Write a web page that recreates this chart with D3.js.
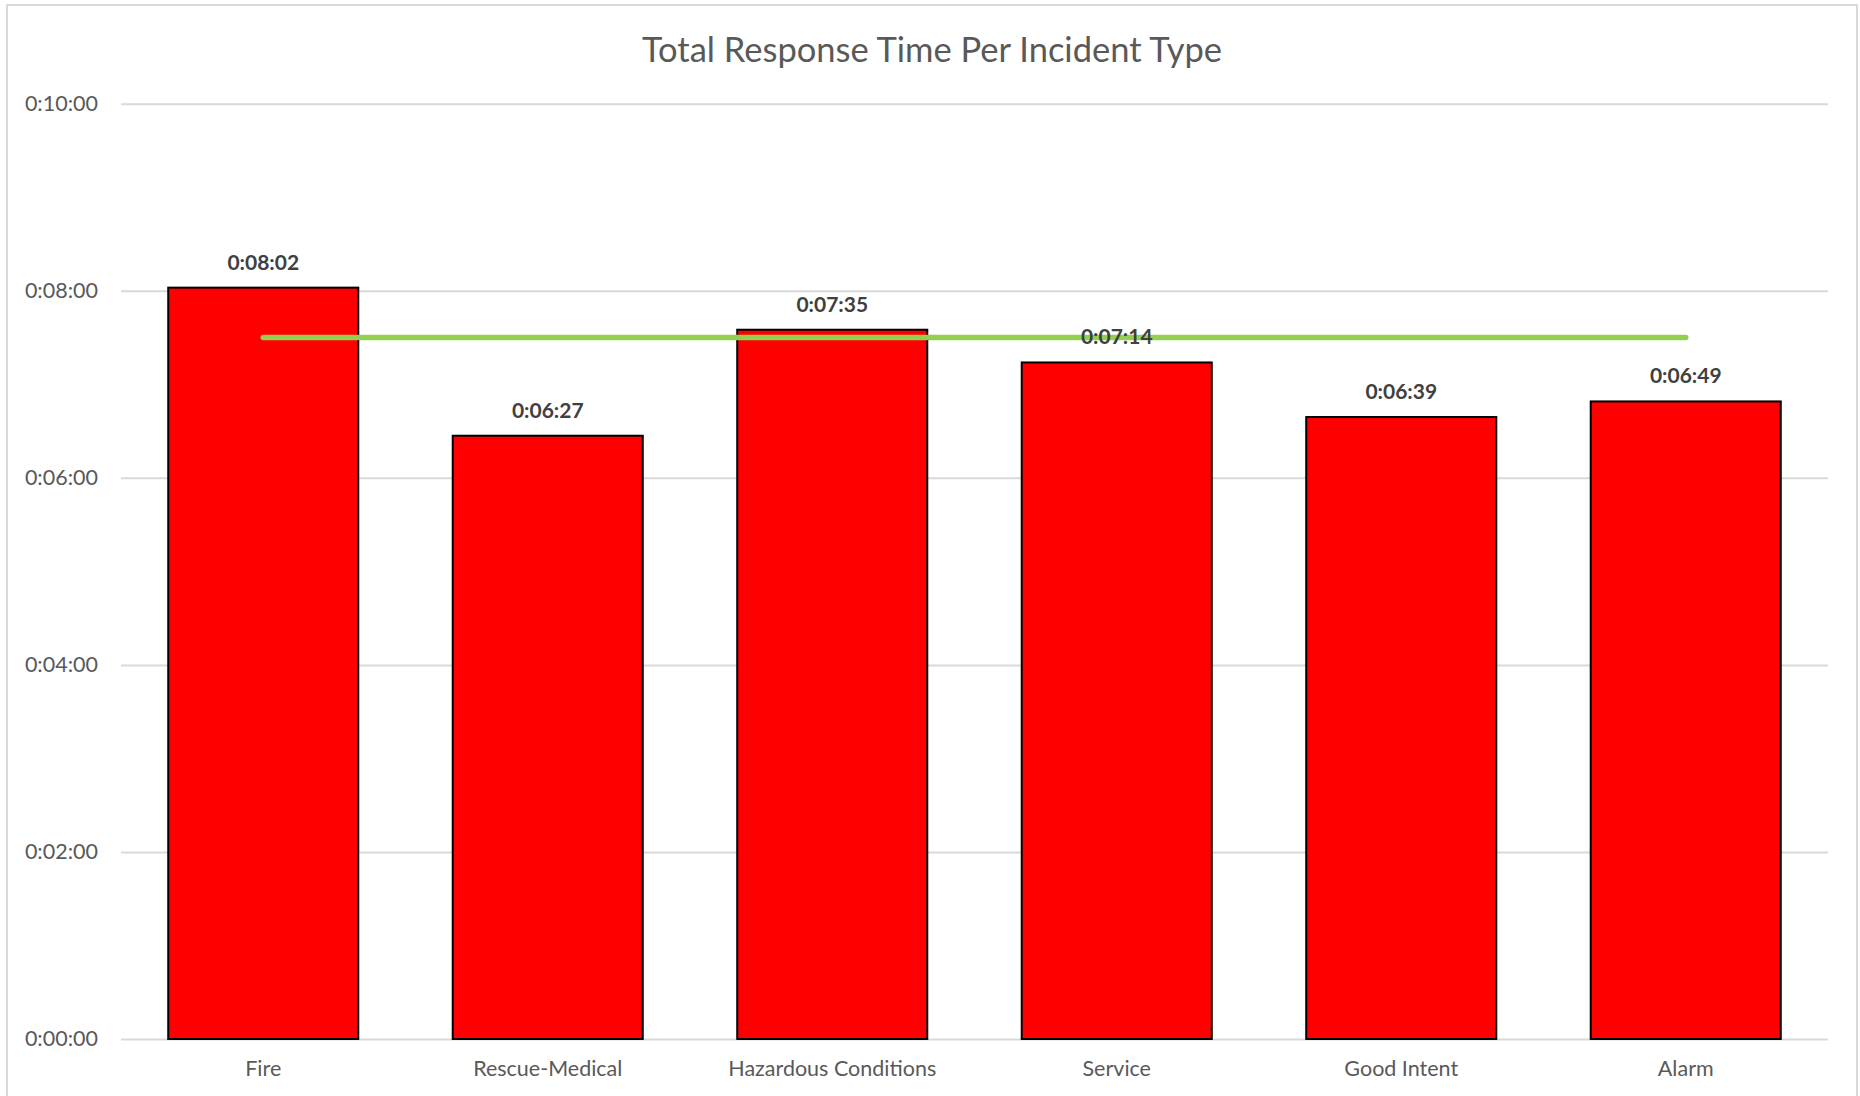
<!DOCTYPE html>
<html>
<head>
<meta charset="utf-8">
<script src="https://cdn.jsdelivr.net/npm/d3@7"></script>
<style>
  html, body { margin: 0; padding: 0; background: #ffffff; }
  svg { display: block; }
</style>
</head>
<body>
<svg id="chart" width="1860" height="1096"></svg>
<script>
// ---- data ----
const categories = ["Fire", "Rescue-Medical", "Hazardous Conditions", "Service", "Good Intent", "Alarm"];
const responseSeconds = [482, 387, 455, 434, 399, 409]; // 0:08:02, 0:06:27, 0:07:35, 0:07:14, 0:06:39, 0:06:49
const targetSeconds = [450, 450, 450, 450, 450, 450];     // 0:07:30 target line
const yTicks = [0, 120, 240, 360, 480, 600];
const title = "Total Response Time Per Incident Type";

// ---- helpers ----
function fmt(sec) {
  const h = Math.floor(sec / 3600);
  const m = Math.floor((sec % 3600) / 60);
  const s = Math.round(sec % 60);
  return h + ":" + String(m).padStart(2, "0") + ":" + String(s).padStart(2, "0");
}

const FONT = "Lato, 'Open Sans', 'Noto Sans', sans-serif";
const svg = d3.select("#chart");

// chart area border
svg.append("rect")
  .attr("x", 7).attr("y", 5)
  .attr("width", 1850).attr("height", 1100)
  .attr("fill", "#ffffff")
  .attr("stroke", "#d9d9d9").attr("stroke-width", 2);

const plot = { left: 121, right: 1828, top: 103.7, bottom: 1039 };

const x = d3.scaleBand()
  .domain(categories)
  .range([plot.left, plot.right])
  .paddingInner(0.332)
  .paddingOuter(0.166);

const y = d3.scaleLinear()
  .domain([0, 600])
  .range([plot.bottom, plot.top]);

// title
svg.append("text")
  .attr("x", 932).attr("y", 50)
  .attr("dy", "0.35em")
  .attr("text-anchor", "middle")
  .attr("font-family", FONT)
  .attr("font-size", 34.5)
  .attr("fill", "#595959")
  .text(title);

// y axis with gridlines
const yAxis = d3.axisLeft(y)
  .tickValues(yTicks)
  .tickFormat(fmt)
  .tickSizeInner(-(plot.right - plot.left))
  .tickSizeOuter(0)
  .tickPadding(23);

const gy = svg.append("g")
  .attr("transform", `translate(${plot.left},0)`)
  .call(yAxis);
gy.select(".domain").remove();
gy.selectAll(".tick line").attr("stroke", "#d9d9d9").attr("stroke-width", 2);
gy.selectAll(".tick text")
  .attr("font-family", FONT)
  .attr("font-size", 21.5)
  .attr("fill", "#595959");

// x axis labels
const xAxis = d3.axisBottom(x).tickSize(0).tickPadding(22);
const gx = svg.append("g")
  .attr("transform", `translate(0,${plot.bottom})`)
  .call(xAxis);
gx.select(".domain").remove();
gx.selectAll(".tick text")
  .attr("font-family", FONT)
  .attr("font-size", 21.5)
  .attr("fill", "#595959");

// bars
const rows = categories.map((c, i) => ({ cat: c, v: responseSeconds[i], t: targetSeconds[i] }));
svg.append("g").selectAll("rect")
  .data(rows)
  .join("rect")
  .attr("x", d => x(d.cat))
  .attr("y", d => y(d.v))
  .attr("width", x.bandwidth())
  .attr("height", d => y(0) - y(d.v))
  .attr("fill", "#ff0000")
  .attr("stroke", "#000000")
  .attr("stroke-width", 2);

// target line
const line = d3.line()
  .x(d => x(d.cat) + x.bandwidth() / 2)
  .y(d => y(d.t));
svg.append("path")
  .datum(rows)
  .attr("d", line)
  .attr("fill", "none")
  .attr("stroke", "#92d050")
  .attr("stroke-width", 5.5)
  .attr("stroke-linecap", "round");

// data labels
svg.append("g").selectAll("text")
  .data(rows)
  .join("text")
  .attr("x", d => x(d.cat) + x.bandwidth() / 2)
  .attr("y", d => y(d.v) - 18)
  .attr("text-anchor", "middle")
  .attr("font-family", FONT)
  .attr("font-weight", "bold")
  .attr("font-size", 21)
  .attr("fill", "#404040")
  .text(d => fmt(d.v));
</script>
</body>
</html>
